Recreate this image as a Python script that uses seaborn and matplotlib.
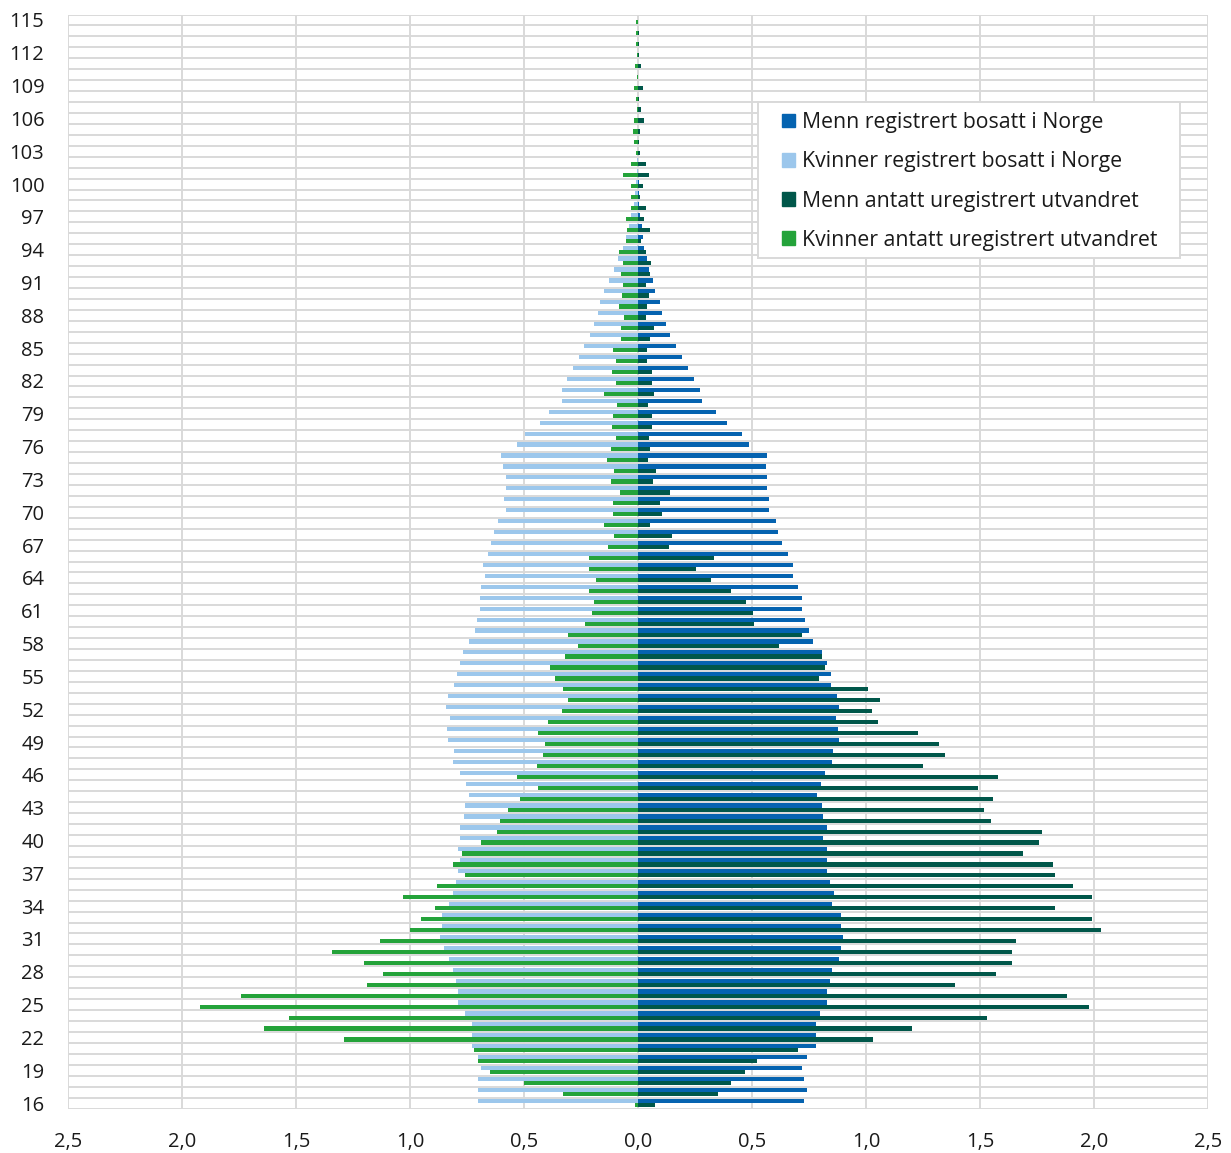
import numpy as np
import pandas as pd
import matplotlib
matplotlib.use('Agg')
import matplotlib.pyplot as plt
import seaborn as sns
from matplotlib.patches import Patch, Rectangle

# alder 16 - 115, andel i prosent
ages = list(range(16, 116))

kvinner_bosatt = [
    0.70, 0.70, 0.70, 0.69, 0.70, 0.73, 0.73, 0.73, 0.76, 0.79,
    0.79, 0.80, 0.81, 0.83, 0.85, 0.87, 0.86, 0.86, 0.83, 0.81,
    0.80, 0.79, 0.78, 0.79, 0.78, 0.78, 0.765, 0.76, 0.742, 0.756,
    0.78, 0.813, 0.806, 0.834, 0.838, 0.826, 0.843, 0.832, 0.808, 0.794,
    0.782, 0.768, 0.742, 0.716, 0.706, 0.695, 0.692, 0.689, 0.669, 0.678,
    0.656, 0.645, 0.632, 0.614, 0.579, 0.588, 0.58, 0.58, 0.591, 0.602,
    0.531, 0.496, 0.431, 0.392, 0.335, 0.335, 0.313, 0.287, 0.259, 0.235,
    0.211, 0.193, 0.175, 0.167, 0.149, 0.129, 0.104, 0.086, 0.067, 0.054,
    0.041, 0.032, 0.019, 0.012, 0.007, 0.004, 0.003, 0.002, 0.001, 0.001,
    0.0, 0.0, 0.0, 0.0, 0.0, 0.0, 0.0, 0.0, 0.0, 0.0,
]
kvinner_utvandret = [
    0.015, 0.33, 0.50, 0.65, 0.70, 0.72, 1.29, 1.64, 1.53, 1.92,
    1.74, 1.19, 1.12, 1.20, 1.34, 1.13, 1.00, 0.95, 0.89, 1.03,
    0.88, 0.76, 0.81, 0.77, 0.69, 0.62, 0.605, 0.571, 0.519, 0.439,
    0.529, 0.442, 0.418, 0.409, 0.439, 0.394, 0.335, 0.309, 0.328, 0.364,
    0.388, 0.319, 0.265, 0.309, 0.234, 0.20, 0.194, 0.213, 0.184, 0.213,
    0.213, 0.13, 0.105, 0.149, 0.11, 0.11, 0.079, 0.12, 0.105, 0.136,
    0.12, 0.095, 0.114, 0.11, 0.091, 0.149, 0.095, 0.114, 0.095, 0.11,
    0.075, 0.075, 0.06, 0.085, 0.07, 0.066, 0.075, 0.064, 0.085, 0.054,
    0.05, 0.054, 0.029, 0.029, 0.029, 0.064, 0.029, 0.007, 0.019, 0.023,
    0.019, 0.003, 0.007, 0.019, 0.004, 0.013, 0.005, 0.007, 0.007, 0.01,
]
menn_bosatt = [
    0.73, 0.74, 0.73, 0.72, 0.74, 0.78, 0.78, 0.78, 0.80, 0.83,
    0.83, 0.84, 0.85, 0.88, 0.89, 0.90, 0.89, 0.89, 0.85, 0.86,
    0.84, 0.83, 0.83, 0.83, 0.81, 0.83, 0.81, 0.808, 0.784, 0.803,
    0.82, 0.852, 0.857, 0.883, 0.878, 0.869, 0.883, 0.874, 0.848, 0.848,
    0.829, 0.808, 0.768, 0.751, 0.734, 0.721, 0.718, 0.70, 0.678, 0.678,
    0.656, 0.632, 0.615, 0.605, 0.575, 0.575, 0.566, 0.566, 0.561, 0.566,
    0.485, 0.455, 0.389, 0.341, 0.281, 0.273, 0.247, 0.219, 0.192, 0.167,
    0.14, 0.123, 0.107, 0.096, 0.075, 0.066, 0.05, 0.039, 0.026, 0.022,
    0.016, 0.01, 0.006, 0.004, 0.003, 0.002, 0.001, 0.001, 0.001, 0.0,
    0.0, 0.0, 0.0, 0.0, 0.0, 0.0, 0.0, 0.0, 0.0, 0.0,
]
menn_utvandret = [
    0.075, 0.35, 0.41, 0.47, 0.52, 0.70, 1.03, 1.20, 1.53, 1.98,
    1.88, 1.39, 1.57, 1.64, 1.64, 1.66, 2.03, 1.99, 1.83, 1.99,
    1.91, 1.83, 1.82, 1.69, 1.76, 1.77, 1.547, 1.517, 1.557, 1.49,
    1.58, 1.25, 1.346, 1.32, 1.23, 1.053, 1.028, 1.061, 1.009, 0.793,
    0.819, 0.808, 0.619, 0.72, 0.508, 0.503, 0.473, 0.408, 0.321, 0.253,
    0.333, 0.135, 0.149, 0.051, 0.105, 0.096, 0.14, 0.064, 0.08, 0.045,
    0.054, 0.05, 0.06, 0.06, 0.045, 0.07, 0.06, 0.06, 0.039, 0.039,
    0.051, 0.07, 0.035, 0.039, 0.05, 0.037, 0.051, 0.056, 0.037, 0.015,
    0.051, 0.026, 0.037, 0.01, 0.02, 0.047, 0.037, 0.01, 0.005, 0.01,
    0.026, 0.015, 0.005, 0.02, 0.0, 0.015, 0.004, 0.005, 0.005, 0.0,
]

x_ticks = [-2.5, -2.0, -1.5, -1.0, -0.5, 0.0, 0.5, 1.0, 1.5, 2.0, 2.5]

c_menn_bosatt = '#0563b0'
c_kvinner_bosatt = '#9cc7ec'
c_menn_utv = '#00574a'
c_kvinner_utv = '#24a33a'
grid_col = '#d9d9d9'

# long format tables, women to the left
alder = [str(a) for a in ages]
df_k = pd.DataFrame({
    'alder': alder * 2,
    'status': ['bosatt'] * len(ages) + ['utvandret'] * len(ages),
    'verdi': [-v for v in kvinner_bosatt] + [-v for v in kvinner_utvandret],
})
df_m = pd.DataFrame({
    'alder': alder * 2,
    'status': ['bosatt'] * len(ages) + ['utvandret'] * len(ages),
    'verdi': menn_bosatt + menn_utvandret,
})
order = alder[::-1]

sns.set_theme(style='white')
plt.rcParams['font.family'] = ['Open Sans', 'DejaVu Sans']

fig = plt.figure(figsize=(12.31, 11.53), dpi=100)
ax = fig.add_axes([68 / 1231, 1 - 1108.5 / 1153, 1140 / 1231, 1094 / 1153])

sns.barplot(data=df_k, x='verdi', y='alder', hue='status', order=order,
            hue_order=['bosatt', 'utvandret'],
            palette=[c_kvinner_bosatt, c_kvinner_utv], orient='h',
            width=0.76, saturation=1, errorbar=None, legend=False,
            linewidth=0, ax=ax)
sns.barplot(data=df_m, x='verdi', y='alder', hue='status', order=order,
            hue_order=['bosatt', 'utvandret'],
            palette=[c_menn_bosatt, c_menn_utv], orient='h',
            width=0.76, saturation=1, errorbar=None, legend=False,
            linewidth=0, ax=ax)

ax.set_axisbelow(True)
ax.set_xlim(-2.5, 2.5)
ax.set_ylim(len(ages) - 0.5, -0.5)
ax.set_xticks(x_ticks)
ax.set_xticklabels([f"{abs(v):.1f}".replace('.', ',') for v in x_ticks])
ax.set_yticks(range(0, len(order), 3))
ax.set_yticklabels(order[::3])
ax.set_yticks(np.arange(-0.5, len(order), 1), minor=True)
ax.grid(axis='x', which='major', color=grid_col, lw=1.4)
ax.grid(axis='y', which='minor', color=grid_col, lw=1.4)
ax.grid(axis='y', which='major', visible=False)
ax.tick_params(which='both', length=0, labelsize=14.5, colors='#1a1a1a')
ax.tick_params(axis='x', pad=17)
ax.tick_params(axis='y', pad=17)
ax.set_xlabel('')
ax.set_ylabel('')
for s in ax.spines.values():
    s.set_visible(False)

# legend with square box
box = Rectangle((758 / 1231, 1 - 258 / 1153), 422 / 1231, 156 / 1153,
                transform=fig.transFigure, facecolor='white',
                edgecolor=grid_col, lw=1.4, zorder=3)
fig.add_artist(box)
handles = [
    Patch(color=c_menn_bosatt, label='Menn registrert bosatt i Norge'),
    Patch(color=c_kvinner_bosatt, label='Kvinner registrert bosatt i Norge'),
    Patch(color=c_menn_utv, label='Menn antatt uregistrert utvandret'),
    Patch(color=c_kvinner_utv, label='Kvinner antatt uregistrert utvandret'),
]
leg = fig.legend(handles=handles, loc='upper left',
                 bbox_to_anchor=(782 / 1231, 1 - 112 / 1153),
                 frameon=False, fontsize=15.3, handlelength=0.62,
                 handleheight=0.62, handletextpad=0.3, labelspacing=0.86,
                 borderpad=0, borderaxespad=0)
leg.set_zorder(5)
for t in leg.get_texts():
    t.set_color('#1a1a1a')

fig.savefig('out.png', dpi=100)
